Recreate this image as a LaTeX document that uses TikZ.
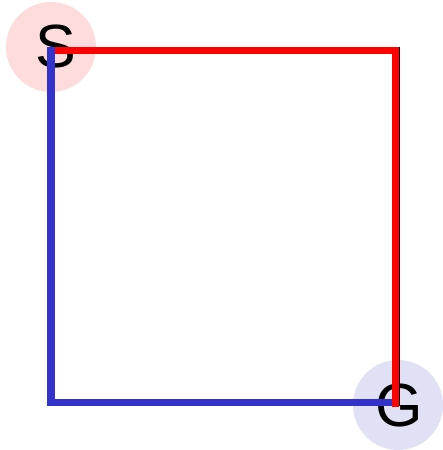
\documentclass[tikz,border=0pt]{standalone}
\usepackage{fontspec}
\setmainfont{Liberation Sans}
\definecolor{startpink}{RGB}{255,220,220}
\definecolor{goalblue}{RGB}{225,225,245}
\definecolor{pathblue}{RGB}{51,51,204}
\tikzset{
  endpt/.style={circle, minimum size=90pt, inner sep=0pt},
  letter/.style={font=\fontsize{61}{63}\selectfont, inner sep=0pt},
  route/.style={line width=7.5pt}
}
\begin{document}
\begin{tikzpicture}[x=1pt,y=-1pt]
\useasboundingbox (0,0) rectangle (442,450);
\draw(51,47) node[endpt, fill=startpink] (S) {};
\draw(398,405) node[endpt, fill=goalblue] (G) {};
\draw(56,47) node[letter] (Slabel) {S};
\draw(399,405) node[letter] (Glabel) {G};

\draw[line width=1pt] (S.center) rectangle ([xshift=1pt]G.center);

\draw[route, pathblue] (S.center) |- ([xshift=1pt,yshift=2.5pt]G.center);
\draw[route, red] ([xshift=4pt,yshift=-3.5pt]S.center) -| ([xshift=-2.5pt,yshift=-2pt]G.center);
\end{tikzpicture}
\end{document}
